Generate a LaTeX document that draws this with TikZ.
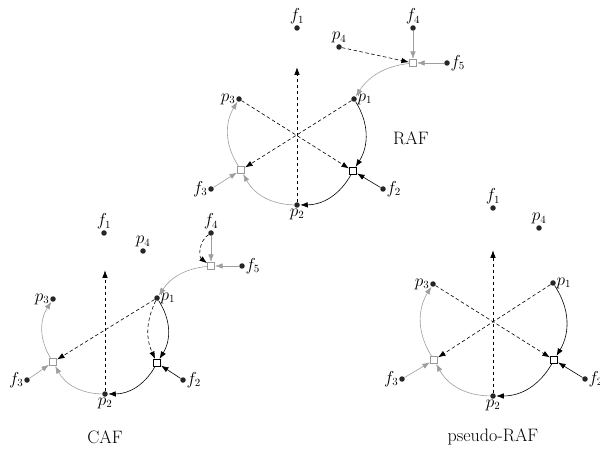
\documentclass[tikz,border=0pt]{standalone}
\usetikzlibrary{arrows.meta}
\begin{document}
\begin{tikzpicture}[x=1pt,y=-1pt,
  dot/.style={circle,fill=black!85,inner sep=0pt,minimum size=5.5pt},
  rsq/.style={rectangle,draw=black,fill=white,line width=0.6pt,inner sep=0pt,minimum size=7pt},
  rsqg/.style={rsq,draw=black!40},
  lab/.style={font=\fontsize{16}{18}\selectfont,inner sep=0.5pt,label distance=0pt},
  ttl/.style={font=\fontsize{18}{21}\selectfont},
  arr/.style={-{Latex[length=7.5pt,width=5.5pt]},line width=0.6pt,shorten >=0.3pt},
  blk/.style={arr,black},
  gry/.style={arr,black!38},
  dsh/.style={arr,black,dash pattern=on 3.5pt off 2.5pt},
]
\useasboundingbox (0,0) rectangle (600,449);

% ---------------- RAF ----------------
\node[dot,label={[lab]above:$f_1$}] (af1) at (297,28) {};
\node[dot,label={[lab]above:$p_4$}] (ap4) at (339,47) {};
\node[dot,label={[lab]above:$f_4$}] (af4) at (413,28) {};
\node[rsqg] (ar4) at (413,63) {};
\node[dot,label={[lab]right:$f_5$}] (af5) at (447,63) {};
\node[dot,label={[lab]right:$p_1$}] (ap1) at (354,99) {};
\node[dot,label={[lab]left:$p_3$}] (ap3) at (239,99) {};
\node[rsq] (ar1) at (353,171) {};
\node[rsqg] (ar3) at (241,170) {};
\node[dot,label={[lab]right:$f_2$}] (af2) at (383,189) {};
\node[dot,label={[lab]left:$f_3$}] (af3) at (211,189) {};
\node[dot,label={[lab]below:$p_2$}] (ap2) at (297,205) {};
\coordinate (atop) at (297,67);
\node[ttl] (araf) at (411,138) {RAF};

\draw[gry] (af4) -- (ar4);
\draw[gry] (af5) -- (ar4);
\draw[gry] (ar4) to[bend right=25] (ap1);
\draw[dsh] (ap4) -- (ar4);
\draw[blk] (ap1) to[bend left=32] (ar1);
\draw[blk] (ar1) to[bend left=30] (ap2);
\draw[blk] (af2) -- (ar1);
\draw[gry] (ap2) to[bend left=30] (ar3);
\draw[gry] (ar3) to[bend left=32] (ap3);
\draw[gry] (af3) -- (ar3);
\draw[dsh] (ap3) -- (ar1);
\draw[dsh] (ap1) -- (ar3);
\draw[dsh] (ap2) -- (atop);

% ---------------- CAF ----------------
\node[dot,label={[lab]above:$f_1$}] (bf1) at (104,233) {};
\node[dot,label={[lab]above:$p_4$}] (bp4) at (143,251) {};
\node[dot,label={[lab]above:$f_4$}] (bf4) at (211,233) {};
\node[rsqg] (br4) at (211,266) {};
\node[dot,label={[lab]right:$f_5$}] (bf5) at (242,266) {};
\node[dot,label={[lab]right:$p_1$}] (bp1) at (157,298) {};
\node[dot,label={[lab]left:$p_3$}] (bp3) at (53,299) {};
\node[rsq] (br1) at (157,363) {};
\node[rsqg] (br3) at (53,362) {};
\node[dot,label={[lab]right:$f_2$}] (bf2) at (183,380) {};
\node[dot,label={[lab]left:$f_3$}] (bf3) at (27,380) {};
\node[dot,label={[lab]below:$p_2$}] (bp2) at (105,394) {};
\coordinate (btop) at (105,270);
\node[ttl] (bcaf) at (105,437) {CAF};

\draw[gry] (bf4) -- (br4);
\draw[gry] (bf5) -- (br4);
\draw[gry] (br4) to[bend right=25] (bp1);
\draw[dsh] (bf4) to[bend right=55] (br4);
\draw[blk] (bp1) to[bend left=32] (br1);
\draw[dsh] (bp1) to[bend right=25] (br1);
\draw[blk] (br1) to[bend left=30] (bp2);
\draw[blk] (bf2) -- (br1);
\draw[gry] (bp2) to[bend left=30] (br3);
\draw[gry] (br3) to[bend left=32] (bp3);
\draw[gry] (bf3) -- (br3);
\draw[dsh] (bp1) -- (br3);
\draw[dsh] (bp2) -- (btop);

% ---------------- pseudo-RAF ----------------
\node[dot,label={[lab]above:$f_1$}] (cf1) at (493,208) {};
\node[dot,label={[lab]above:$p_4$}] (cp4) at (539,228) {};
\node[dot,label={[lab]right:$p_1$}] (cp1) at (553,283) {};
\node[dot,label={[lab]left:$p_3$}] (cp3) at (433,284) {};
\node[rsq] (cr1) at (554,360) {};
\node[rsqg] (cr3) at (434,360) {};
\node[dot,label={[lab]right:$f_2$}] (cf2) at (585,379) {};
\node[dot,label={[lab]left:$f_3$}] (cf3) at (402,379) {};
\node[dot,label={[lab]below:$p_2$}] (cp2) at (493,396) {};
\coordinate (ctop) at (493,250);
\node[ttl] (cpr) at (493,437) {pseudo-RAF};

\draw[blk] (cp1) to[bend left=32] (cr1);
\draw[blk] (cr1) to[bend left=30] (cp2);
\draw[blk] (cf2) -- (cr1);
\draw[gry] (cp2) to[bend left=30] (cr3);
\draw[gry] (cr3) to[bend left=32] (cp3);
\draw[gry] (cf3) -- (cr3);
\draw[dsh] (cp3) -- (cr1);
\draw[dsh] (cp1) -- (cr3);
\draw[dsh] (cp2) -- (ctop);
\end{tikzpicture}
\end{document}
